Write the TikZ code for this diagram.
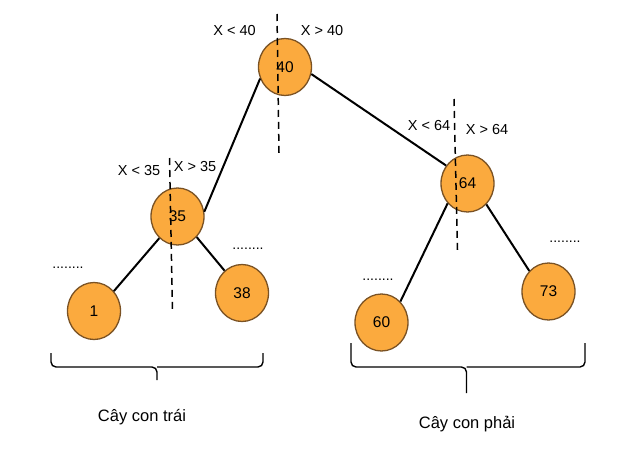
\documentclass[tikz,border=0pt]{standalone}
\usepackage{fontspec}
\setmainfont{Liberation Sans}
\usetikzlibrary{shapes.geometric}
\definecolor{nodefill}{HTML}{FBAA3E}
\definecolor{nodeborder}{HTML}{7A5224}
\begin{document}
\begin{tikzpicture}[x=1pt,y=-1pt,
  tnode/.style={ellipse,draw=nodeborder,fill=nodefill,line width=1.3pt,minimum width=53pt,minimum height=57pt,inner sep=0pt,font=\fontsize{15.5}{18}\selectfont},
  edge/.style={line width=2pt,black},
  split/.style={line width=1.5pt,dash pattern=on 7pt off 5pt},
  lbl/.style={font=\fontsize{14.5}{17}\selectfont,inner sep=0pt},
  dots/.style={font=\fontsize{14}{16}\selectfont,inner sep=0pt},
  brace/.style={line width=1.4pt,rounded corners=5pt},
  captxt/.style={font=\fontsize{16.5}{19}\selectfont,inner sep=0pt}]
\useasboundingbox (0,0) rectangle (621,463);
% nodes
\node[tnode] (n40) at (285,67) {40};
\node[tnode] (n35) at (177.5,216.5) {35};
\node[tnode] (n38) at (242,293) {38};
\node[tnode] (n1) at (94,311) {1};
\node[tnode] (n64) at (467.5,183.5) {64};
\node[tnode] (n73) at (548.5,291.5) {73};
\node[tnode] (n60) at (381.5,322.5) {60};
% edges
\draw[edge] (n35.10) -- (n40.205);
\draw[edge] (n40.-15) -- (n64.140);
\draw[edge] (n35.230) -- (n1.45);
\draw[edge] (n35.-47) -- (n38.128);
\draw[edge] (n64.225) -- (n60.48);
\draw[edge] (n64.-48) -- (n73.133);
% split lines
\coordinate (s40a) at (277,14); \coordinate (s40b) at (279,153);
\coordinate (s35a) at (169.5,158); \coordinate (s35b) at (172.5,310);
\coordinate (s64a) at (454,99); \coordinate (s64b) at (457.5,250);
\draw[split] (s40a) -- (s40b);
\draw[split] (s35a) -- (s35b);
\draw[split] (s64a) -- (s64b);
% labels
\node[lbl] (l40a) at (234.5,30.5) {X < 40};
\node[lbl] (l40b) at (322,30.5) {X > 40};
\node[lbl] (l35a) at (139,170.5) {X < 35};
\node[lbl] (l35b) at (195,166.5) {X > 35};
\node[lbl] (l64a) at (429,126) {X < 64};
\node[lbl] (l64b) at (487,130) {X > 64};
% dots
\node[dots] (d1) at (68,268) {........};
\node[dots] (d38) at (248,249) {........};
\node[dots] (d60) at (378,280) {........};
\node[dots] (d73) at (565,242) {........};
% braces
\draw[brace] (51,353) -- (51,367) -- (157,367) -- (157,380);
\draw[brace] (263,353) -- (263,367) -- (157,367);
\draw[brace] (351,343) -- (351,367) -- (466.5,367) -- (466.5,393);
\draw[brace] (585,343) -- (585,367) -- (466.5,367);
% captions
\node[captxt] (c1) at (142,417) {Cây con trái};
\node[captxt] (c2) at (467,424) {Cây con phải};
\end{tikzpicture}
\end{document}
